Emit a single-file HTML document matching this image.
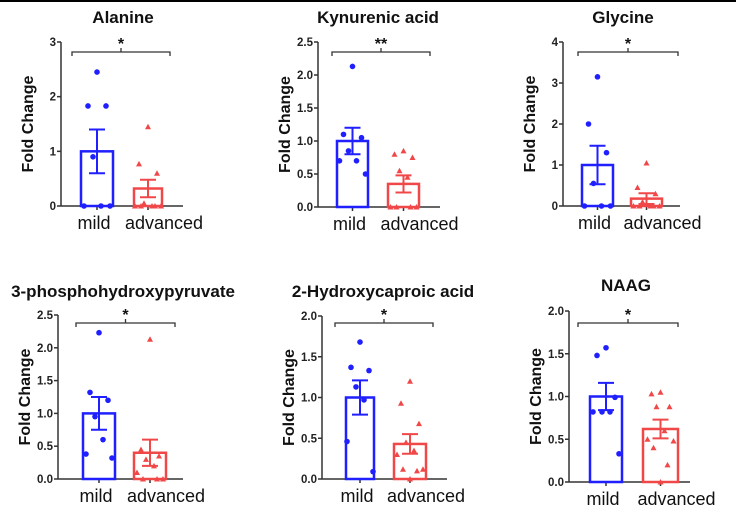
<!DOCTYPE html>
<html><head><meta charset="utf-8"><style>
html,body{margin:0;padding:0;background:#fff;}
svg{display:block;font-family:"Liberation Sans",Arial,sans-serif;}
</style></head><body>
<svg id="c" width="736" height="522" viewBox="0 0 736 522">
<rect x="0" y="0" width="736" height="522" fill="#fff"/>
<line x1="0" y1="1" x2="736" y2="1" stroke="#000" stroke-width="2"/>
</svg>
<script>
const titles = ["Alanine","Kynurenic acid","Glycine","3-phosphohydroxypyruvate","2-Hydroxycaproic acid","NAAG"];
const categories = ["mild","advanced"];
const sigLabels = ["*","**","*","*","*","*"];
const yMaxes = [3,2.5,4,2.5,2.0,2.0];
const yTicks = [[0,1,2,3],[0,0.5,1,1.5,2,2.5],[0,1,2,3,4],[0,0.5,1,1.5,2,2.5],[0,0.5,1,1.5,2],[0,0.5,1,1.5,2]];
const tickDecimals = [0,1,0,1,1,1];
const mildMeans = [1,1,1,1,1,1];
const mildSem = [0.4,0.2,0.47,0.25,0.21,0.16];
const advMeans = [0.32,0.35,0.18,0.4,0.43,0.62];
const advSem = [0.16,0.13,0.13,0.2,0.12,0.11];
const mildPoints = [
 [2.45,1.83,1.83,0.9,0,0,0],
 [2.13,1.1,1.05,0.85,0.7,0.7,0.5],
 [3.15,2.0,1.3,0.55,0,0,0],
 [2.23,1.32,1.2,0.95,0.6,0.38,0.32],
 [1.68,1.37,1.33,1.13,0.97,0.46,0.09],
 [1.57,1.48,0.99,0.82,0.82,0.82,0.33]];
const advPoints = [
 [1.45,0.77,0.6,0.05,0,0,0,0,0],
 [0.85,0.8,0.75,0.55,0.45,0,0,0,0],
 [1.05,0.45,0.3,0.1,0,0,0,0,0],
 [2.13,0.45,0.35,0.3,0.2,0.1,0,0,0],
 [1.2,0.93,0.68,0.45,0.35,0.3,0.12,0.12,0.1,0],
 [1.05,1.03,0.88,0.88,0.6,0.5,0.48,0.4,0.2,0]];

const L = [
 {ax:61,top:42,bot:206,xEnd:183,b1:[80,114],b2:[133,163],br:[72,170,52],tx:123,ty:23},
 {ax:318,top:42,bot:207,xEnd:440,b1:[336,369],b2:[387,420],br:[332,430,52],tx:378,ty:23},
 {ax:563,top:42,bot:206,xEnd:680,b1:[581,614],b2:[630,663],br:[578,678,52],tx:623,ty:23},
 {ax:58,top:315,bot:479,xEnd:183,b1:[82,116],b2:[133,167],br:[76,175,323],tx:123,ty:297},
 {ax:322,top:316,bot:479,xEnd:447,b1:[345,375],b2:[393,427],br:[335,433,323],tx:383,ty:297},
 {ax:569,top:311,bot:482,xEnd:690,b1:[589,623],b2:[642,679],br:[578,678,323],tx:626,ty:291}];

const NS="http://www.w3.org/2000/svg";
const svg=document.getElementById('c');
function mk(tag,attrs,parent,text){const e=document.createElementNS(NS,tag);for(const k in attrs)e.setAttribute(k,attrs[k]);if(text!==undefined)e.textContent=text;(parent||svg).appendChild(e);return e;}
const BLUE="#1f1fff",RED="#f04848",AX="#333";
const jit=[0,-9,9,-4,4,-13,13,-7,7,0];

for(let p=0;p<6;p++){
  const g=L[p];
  const grp=mk('g',{});
  
  
  const y=v=>g.bot-(v/yMaxes[p])*(g.bot-g.top);
  const t=mk('text',{x:g.tx,y:g.ty,'text-anchor':'middle','font-size':17,'font-weight':'bold',fill:'#111'},grp,titles[p]);
  
  
  const ya=mk('line',{x1:g.ax,y1:g.top,x2:g.ax,y2:g.bot,stroke:AX,'stroke-width':1.5},grp);
  
  
  yTicks[p].forEach(v=>{
    mk('line',{x1:g.ax-4,y1:y(v),x2:g.ax,y2:y(v),stroke:AX,'stroke-width':1.5},grp);
    const tl=mk('text',{x:g.ax-5,y:y(v)+4,'text-anchor':'end','font-size':11.5,'font-weight':'bold',fill:'#222'},grp,v.toFixed(tickDecimals[p]));
    
    
  });
  const yt=mk('text',{x:0,y:0,transform:`translate(${g.ax-28},${(g.top+g.bot)/2}) rotate(-90)`,'text-anchor':'middle','font-size':16,'font-weight':'bold',fill:'#111'},grp,'Fold Change');
  
  
  const xa=mk('line',{x1:g.ax,y1:g.bot,x2:g.xEnd,y2:g.bot,stroke:AX,'stroke-width':1.5},grp);
  
  
  const groups=[[g.b1,mildMeans[p],mildSem[p],mildPoints[p],BLUE,'mild'],[g.b2,advMeans[p],advSem[p],advPoints[p],RED,'advanced']];
  groups.forEach((gr,i)=>{
    const [bx,m,s,pts,col,nm]=gr;
    const cx=(bx[0]+bx[1])/2;
    mk('line',{x1:cx,y1:g.bot,x2:cx,y2:g.bot+4,stroke:AX,'stroke-width':1.5},grp);
    const bar=mk('rect',{x:bx[0]+1,y:y(m),width:bx[1]-bx[0]-2,height:g.bot-y(m),fill:'none',stroke:col,'stroke-width':2.5},grp);
    
    
    const eb=mk('path',{d:`M${cx},${y(m+s)}V${y(m-s)}M${cx-8},${y(m+s)}H${cx+8}M${cx-8},${y(m-s)}H${cx+8}`,stroke:col,'stroke-width':2,fill:'none'},grp);
    
    
    pts.forEach((v,k)=>{
      const px=cx+jit[k%jit.length], py=y(v);
      let mkp;
      if(i===0) mkp=mk('circle',{cx:px,cy:py,r:2.8,fill:col},grp);
      else mkp=mk('path',{d:`M${px},${py-3}L${px+3},${py+2.5}L${px-3},${py+2.5}Z`,fill:col},grp);
      
      
    });
    const cl=mk('text',{x:cx+(i?16:-3),y:g.bot+23,'text-anchor':'middle','font-size':18,fill:'#111'},grp,categories[i]);
    
    
  });
  const [bx1,bx2,by]=g.br, bm=(bx1+bx2)/2;
  const br=mk('path',{d:`M${bx1},${by+4}V${by}H${bx2}V${by+4}M${bm},${by}V${by-4}`,stroke:AX,'stroke-width':1.3,fill:'none'},grp);
  
  
  const st=mk('text',{x:bm,y:by-3,'text-anchor':'middle','font-size':16,'font-weight':'bold',fill:'#111'},grp,sigLabels[p]);
  
  
}
</script>
</body></html>
